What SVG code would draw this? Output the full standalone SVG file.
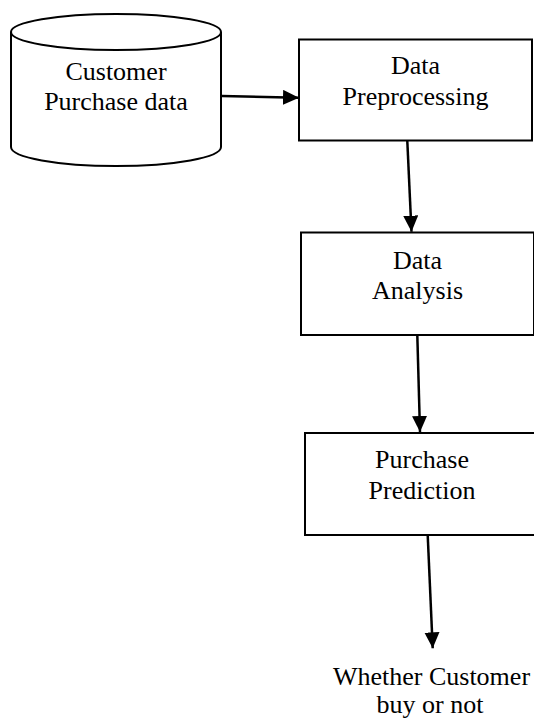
<svg xmlns="http://www.w3.org/2000/svg" width="534" height="719" viewBox="0 0 534 719">
  <style>
    .shape { fill: #ffffff; stroke: #000000; stroke-width: 2; }
    .label { font-family: "Liberation Serif", "Times New Roman", serif; font-size: 26px; fill: #000000; text-anchor: middle; }
    .link { stroke: #000000; stroke-width: 2.5; fill: none; marker-end: url(#arrow); }
  </style>
  <defs>
    <marker id="arrow" markerUnits="userSpaceOnUse" markerWidth="17" markerHeight="16" refX="16" refY="7.5" orient="auto">
      <path d="M0,0 L16,7.5 L0,15 Z" fill="#000000"/>
    </marker>
  </defs>

  <rect width="534" height="719" fill="#ffffff"/>

  <!-- data store -->
  <g id="customer-data">
    <path class="shape" d="M11,32 L11,147 A105,19 0 0 0 221,147 L221,32 A105,18 0 0 0 11,32 Z"/>
    <path class="shape" fill="none" d="M11,32 A105,18 0 0 0 221,32"/>
    <text class="label" x="116" y="80">Customer</text>
    <text class="label" x="116" y="110">Purchase data</text>
  </g>

  <g id="data-preprocessing">
    <rect class="shape" x="299" y="39.5" width="233" height="101"/>
    <text class="label" x="415.5" y="74">Data</text>
    <text class="label" x="415.5" y="105">Preprocessing</text>
  </g>

  <g id="data-analysis">
    <rect class="shape" x="301" y="232.5" width="233" height="102.5"/>
    <text class="label" x="417.5" y="269">Data</text>
    <text class="label" x="417.5" y="299">Analysis</text>
  </g>

  <g id="purchase-prediction">
    <rect class="shape" x="305" y="433" width="234" height="102"/>
    <text class="label" x="422" y="468">Purchase</text>
    <text class="label" x="422" y="499">Prediction</text>
  </g>

  <g id="result">
    <text class="label" x="431.5" y="685">Whether Customer</text>
    <text class="label" x="430" y="713">buy or not</text>
  </g>

  <g id="connectors">
    <line class="link" x1="222" y1="96" x2="299" y2="97.7"/>
    <line class="link" x1="407.3" y1="141" x2="411.5" y2="231.7"/>
    <line class="link" x1="417.3" y1="335" x2="420" y2="432"/>
    <line class="link" x1="427.7" y1="535" x2="432.7" y2="648.3"/>
  </g>
</svg>
